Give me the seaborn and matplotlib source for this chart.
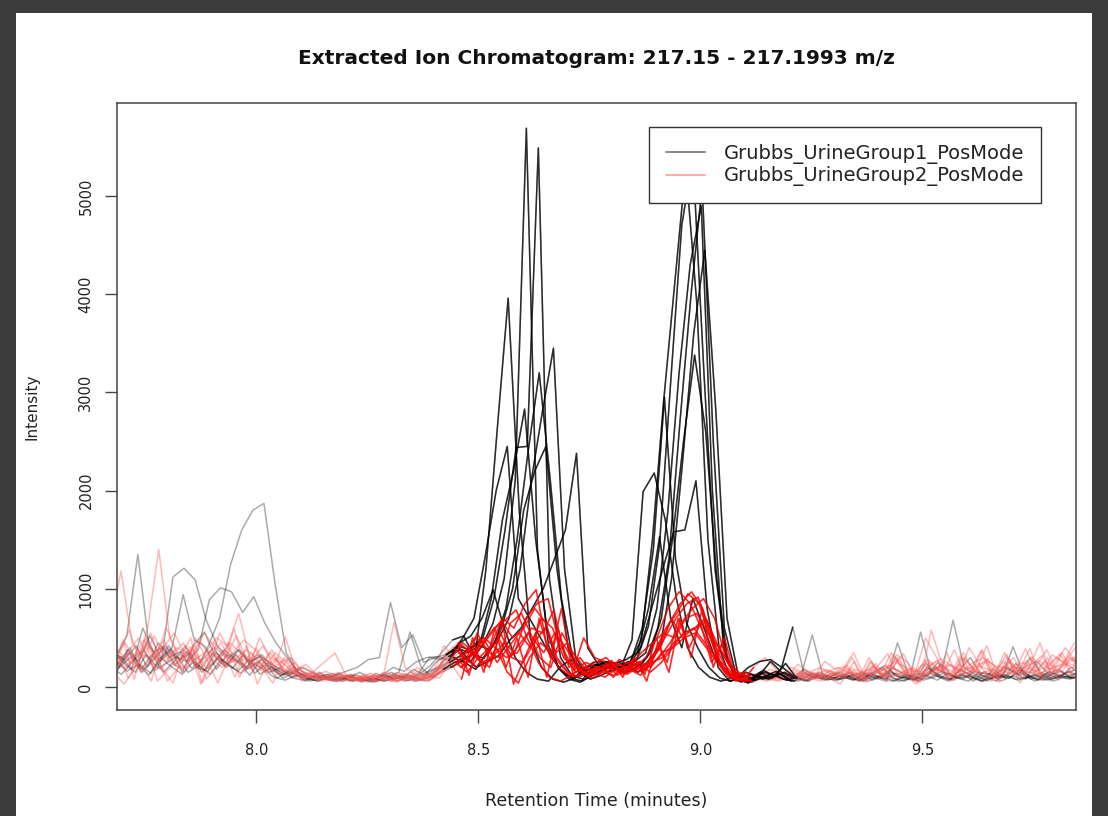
import numpy as np
import pandas as pd
import matplotlib
matplotlib.use("Agg")
import matplotlib.pyplot as plt
import seaborn as sns
from matplotlib.lines import Line2D
from matplotlib.patches import Rectangle

# ---------------- data ----------------
title = "Extracted Ion Chromatogram: 217.15 - 217.1993 m/z"
group_names = ["Grubbs_UrineGroup1_PosMode", "Grubbs_UrineGroup2_PosMode"]
x_ticks = [8.0, 8.5, 9.0, 9.5]
y_ticks = [0, 1000, 2000, 3000, 4000, 5000]

# scan retention times (minutes)
rt = [7.675, 7.700, 7.725, 7.750, 7.775, 7.800, 7.825, 7.850, 7.875, 7.900, 7.925,
      7.950, 7.975, 8.000, 8.025, 8.050, 8.075, 8.100, 8.125, 8.150, 8.175, 8.200,
      8.225, 8.250, 8.275, 8.300, 8.325, 8.350, 8.375, 8.400, 8.425, 8.450, 8.475,
      8.500, 8.525, 8.550, 8.575, 8.600, 8.625, 8.650, 8.675, 8.700, 8.725, 8.750,
      8.775, 8.800, 8.825, 8.850, 8.875, 8.900, 8.925, 8.950, 8.975, 9.000, 9.025,
      9.050, 9.075, 9.100, 9.125, 9.150, 9.175, 9.200, 9.225, 9.250, 9.275, 9.300,
      9.325, 9.350, 9.375, 9.400, 9.425, 9.450, 9.475, 9.500, 9.525, 9.550, 9.575,
      9.600, 9.625, 9.650, 9.675, 9.700, 9.725, 9.750, 9.775, 9.800, 9.825, 9.850]

# per-sample retention time offsets (minutes)
g1_offsets = [0.008, 0.010, -0.008, -0.006, 0.012, 0.004, -0.004, -0.010, 0.008, 0.002]
g2_offsets = [0.005, -0.005, 0.010, -0.010, 0.002, -0.003, 0.007, -0.008, 0.012, 0.000, -0.012, 0.004]

# Group 1 intensities
g1_s1 = [300, 520, 1350, 420, 260, 380, 150, 420, 560, 300, 200, 380, 250, 310, 180, 120, 200, 150, 90, 130, 80, 110,
         60, 90, 70, 120, 60, 80, 150, 200, 310, 380, 260, 420, 650, 1100, 2100, 5690, 1400, 420, 180, 90, 60, 130,
         180, 210, 160, 300, 620, 1450, 3100, 4700, 5400, 3200, 1200, 300, 80, 40, 120, 260, 150, 90, 180, 120, 80, 140,
         100, 60, 150, 90, 200, 130, 80, 240, 110, 60, 170, 300, 120, 90, 210, 150, 80, 260, 140, 180, 90, 200]
g1_s2 = [150, 380, 260, 520, 300, 400, 940, 480, 410, 180, 330, 250, 120, 280, 200, 90, 150, 60, 110, 80, 140, 60,
         90, 50, 130, 80, 110, 60, 90, 180, 250, 320, 410, 500, 900, 1600, 2440, 2450, 5490, 1100, 300, 120, 80, 200,
         260, 190, 230, 150, 280, 420, 1100, 2300, 3600, 4450, 2800, 700, 120, 60, 150, 90, 200, 110, 60, 130, 90, 70,
         150, 80, 120, 200, 90, 60, 140, 110, 250, 80, 130, 90, 60, 180, 100, 240, 130, 70, 160, 100, 200, 120]
g1_s3 = [420, 200, 310, 150, 280, 400, 220, 360, 190, 420, 700, 1250, 1600, 1800, 1870, 1050, 350, 150, 90, 150, 70, 100,
         60, 80, 50, 110, 90, 70, 130, 220, 350, 480, 520, 300, 1200, 2600, 3960, 1800, 500, 200, 80, 50, 90, 160,
         230, 150, 200, 260, 480, 1500, 2900, 4100, 5300, 3900, 1500, 400, 100, 50, 100, 170, 110, 240, 90, 60, 150, 100,
         80, 130, 70, 160, 220, 110, 90, 60, 140, 230, 120, 80, 160, 100, 60, 190, 120, 300, 150, 90, 130, 170]
g1_s4 = [250, 310, 180, 600, 350, 420, 300, 260, 380, 890, 1010, 970, 760, 920, 650, 450, 300, 150, 100, 120, 90, 60,
         100, 70, 140, 90, 60, 120, 80, 160, 220, 300, 250, 180, 350, 480, 700, 1200, 2100, 2800, 3450, 1200, 300, 120,
         200, 240, 180, 270, 600, 1400, 2950, 1300, 650, 400, 200, 90, 60, 110, 80, 150, 120, 70, 100, 60, 120, 80,
         110, 70, 130, 90, 60, 450, 120, 80, 100, 160, 680, 200, 130, 70, 110, 90, 150, 80, 120, 60, 100, 130]
g1_s5 = [180, 350, 230, 140, 300, 1120, 1210, 1090, 680, 420, 300, 380, 250, 330, 200, 120, 180, 90, 60, 100, 70, 130,
         50, 100, 60, 90, 130, 80, 60, 140, 200, 260, 340, 290, 450, 800, 1500, 2400, 3200, 2100, 900, 300, 150, 220,
         250, 180, 260, 200, 350, 700, 1500, 2500, 3380, 2600, 1100, 250, 70, 50, 90, 130, 80, 60, 140, 100, 70, 110,
         90, 150, 70, 110, 60, 130, 90, 200, 120, 70, 180, 100, 60, 140, 90, 200, 110, 70, 130, 160, 90, 120]
g1_s6 = [350, 280, 420, 200, 450, 300, 360, 190, 280, 400, 220, 330, 180, 260, 150, 200, 100, 130, 70, 90, 60, 120,
         80, 60, 100, 150, 90, 180, 120, 250, 330, 420, 380, 450, 900, 1700, 2200, 2830, 1500, 600, 200, 80, 50, 110,
         170, 220, 140, 190, 300, 600, 1300, 2700, 4000, 5100, 2500, 600, 150, 60, 110, 80, 130, 60, 90, 140, 70, 100,
         130, 80, 60, 110, 150, 90, 70, 120, 200, 130, 90, 60, 150, 120, 90, 410, 120, 60, 140, 90, 160, 110]
g1_s7 = [200, 130, 260, 380, 170, 240, 310, 150, 220, 130, 280, 190, 330, 140, 230, 90, 160, 110, 60, 100, 140, 80,
         120, 90, 60, 110, 150, 560, 200, 100, 180, 250, 300, 200, 260, 320, 480, 600, 800, 1000, 1300, 1600, 2380, 400,
         220, 260, 200, 480, 1990, 2180, 1700, 900, 400, 200, 100, 60, 90, 130, 70, 110, 160, 90, 60, 120, 80, 140,
         100, 70, 140, 90, 120, 60, 80, 560, 130, 90, 70, 150, 110, 60, 130, 90, 180, 100, 70, 140, 110, 90]
g1_s8 = [120, 250, 400, 180, 330, 150, 260, 420, 200, 160, 300, 220, 140, 250, 180, 100, 70, 120, 90, 60, 110, 90,
         70, 100, 80, 60, 120, 90, 140, 300, 280, 350, 500, 700, 1320, 2000, 2450, 900, 700, 500, 300, 150, 90, 200,
         230, 200, 250, 220, 400, 800, 1200, 1580, 1600, 2100, 800, 200, 60, 90, 130, 80, 110, 150, 90, 70, 130, 100,
         150, 90, 60, 120, 80, 140, 100, 70, 190, 110, 80, 130, 60, 160, 90, 120, 70, 100, 140, 80, 110, 90]
g1_s9 = [280, 160, 230, 120, 300, 210, 130, 260, 170, 350, 240, 160, 280, 130, 200, 150, 90, 70, 110, 80, 60, 100,
         150, 80, 120, 200, 160, 250, 300, 310, 270, 450, 520, 700, 990, 600, 300, 150, 80, 60, 200, 280, 150, 250,
         260, 240, 280, 350, 800, 1530, 700, 400, 900, 600, 300, 150, 100, 200, 260, 280, 200, 610, 150, 90, 120, 80,
         110, 70, 130, 90, 60, 100, 80, 120, 70, 140, 90, 110, 60, 100, 130, 80, 90, 120, 70, 100, 80, 130]
g1_s10 = [380, 240, 150, 330, 200, 420, 280, 350, 150, 240, 380, 290, 200, 330, 260, 180, 130, 200, 150, 90, 120, 160,
          200, 280, 300, 860, 400, 530, 250, 300, 330, 400, 350, 420, 380, 600, 1000, 1800, 2200, 2450, 1200, 400, 150, 80,
          120, 180, 210, 260, 350, 800, 1800, 3200, 4300, 4900, 2000, 400, 100, 150, 110, 90, 140, 80, 120, 530, 100, 70,
          90, 140, 80, 110, 170, 90, 130, 70, 100, 150, 90, 120, 80, 140, 60, 110, 90, 130, 70, 120, 90, 110]

# Group 2 intensities
g2_s1 = [300, 450, 220, 600, 1400, 500, 250, 380, 200, 450, 300, 520, 260, 180, 350, 220, 130, 90, 150, 80, 60, 120,
         90, 60, 110, 70, 100, 60, 80, 120, 200, 350, 250, 400, 550, 700, 600, 850, 990, 400, 200, 120, 180, 90,
         150, 120, 200, 180, 250, 400, 650, 850, 970, 800, 400, 150, 60, 100, 140, 90, 120, 200, 150, 100, 260, 180,
         220, 80, 300, 120, 350, 180, 60, 280, 120, 350, 90, 400, 220, 60, 180, 300, 120, 200, 380, 140, 320, 180]
g2_s2 = [600, 1180, 450, 300, 520, 260, 400, 350, 180, 300, 450, 250, 320, 200, 150, 280, 120, 180, 100, 140, 90, 60,
         80, 130, 60, 90, 150, 80, 120, 100, 250, 400, 300, 200, 350, 500, 300, 450, 600, 550, 785, 300, 150, 200,
         130, 250, 180, 220, 150, 300, 500, 700, 850, 915, 600, 250, 100, 60, 200, 300, 180, 120, 230, 150, 200, 130,
         170, 350, 100, 240, 60, 300, 140, 50, 580, 220, 80, 300, 160, 420, 90, 280, 40, 230, 320, 100, 260, 400]
g2_s3 = [200, 350, 500, 250, 180, 320, 450, 280, 350, 500, 420, 750, 300, 200, 380, 150, 250, 120, 80, 110, 150, 90,
         60, 100, 80, 660, 200, 120, 90, 150, 280, 200, 320, 450, 600, 680, 785, 500, 250, 100, 60, 120, 200, 150,
         100, 180, 130, 200, 250, 400, 700, 500, 600, 450, 300, 200, 80, 120, 90, 150, 110, 170, 130, 90, 150, 200,
         140, 60, 260, 100, 330, 150, 30, 200, 270, 90, 320, 140, 380, 100, 350, 130, 270, 90, 210, 340, 120, 500]
g2_s4 = [450, 280, 350, 150, 250, 400, 550, 320, 200, 380, 280, 450, 350, 280, 420, 200, 510, 150, 120, 70, 100, 60,
         90, 60, 120, 80, 50, 100, 70, 90, 150, 300, 450, 350, 200, 400, 150, 40, 300, 450, 350, 200, 100, 150,
         200, 160, 230, 180, 120, 250, 300, 450, 550, 600, 680, 350, 150, 80, 60, 120, 90, 140, 100, 160, 120, 90,
         30, 200, 80, 220, 90, 300, 150, 40, 250, 170, 60, 300, 190, 80, 160, 330, 90, 200, 450, 120, 350, 100]
g2_s5 = [150, 30, 200, 420, 60, 180, 280, 500, 40, 260, 350, 100, 420, 30, 250, 180, 300, 60, 150, 250, 345, 120,
         70, 50, 90, 60, 80, 110, 60, 100, 350, 250, 400, 300, 410, 680, 500, 600, 800, 650, 300, 150, 100, 160,
         220, 180, 130, 200, 300, 500, 800, 970, 850, 600, 350, 200, 90, 50, 100, 70, 130, 90, 120, 80, 110, 150,
         200, 120, 90, 160, 220, 140, 190, 110, 160, 260, 180, 140, 220, 170, 120, 200, 250, 160, 200, 300, 220, 180]
g2_s6 = [380, 250, 300, 480, 280, 600, 350, 250, 480, 300, 200, 350, 480, 380, 220, 300, 200, 100, 150, 90, 60, 100,
         130, 80, 60, 120, 90, 150, 80, 130, 420, 300, 200, 550, 350, 300, 650, 750, 500, 350, 550, 400, 200, 100,
         180, 230, 150, 250, 180, 350, 600, 750, 950, 850, 500, 200, 100, 150, 80, 110, 70, 100, 140, 90, 60, 120,
         100, 260, 50, 200, 340, 90, 170, 60, 210, 150, 380, 100, 130, 290, 50, 260, 120, 310, 70, 230, 400, 250]
g2_s7 = [250, 180, 350, 300, 400, 250, 180, 300, 550, 400, 300, 250, 200, 500, 300, 250, 150, 200, 120, 160, 100, 80,
         100, 140, 90, 70, 120, 60, 110, 180, 200, 450, 350, 250, 300, 450, 350, 700, 850, 900, 450, 250, 150, 120,
         160, 250, 200, 150, 200, 300, 450, 650, 800, 900, 700, 300, 120, 60, 120, 180, 140, 90, 160, 120, 180, 140,
         180, 60, 260, 100, 190, 340, 110, 500, 300, 80, 230, 150, 370, 90, 260, 130, 390, 150, 300, 70, 300, 220]
g2_s8 = [500, 350, 250, 180, 300, 480, 220, 200, 300, 180, 550, 350, 280, 250, 180, 350, 250, 130, 90, 120, 80, 130,
         60, 90, 120, 100, 60, 90, 130, 70, 150, 200, 300, 500, 450, 250, 400, 550, 400, 700, 600, 300, 180, 250,
         200, 150, 280, 220, 350, 450, 550, 500, 700, 750, 550, 400, 200, 100, 50, 90, 150, 110, 80, 140, 100, 160,
         130, 300, 50, 200, 90, 330, 250, 80, 220, 290, 100, 350, 150, 280, 60, 300, 160, 390, 110, 330, 250, 450]
g2_s9 = [320, 90, 280, 550, 200, 40, 380, 420, 80, 220, 450, 100, 350, 200, 40, 300, 180, 230, 120, 100, 130, 70,
         110, 80, 150, 120, 70, 200, 120, 90, 250, 80, 500, 150, 600, 200, 500, 100, 700, 300, 800, 150, 500, 300,
         250, 120, 180, 250, 150, 250, 400, 550, 600, 700, 450, 250, 150, 80, 130, 100, 80, 150, 90, 130, 170, 110,
         150, 130, 210, 170, 260, 200, 150, 280, 190, 230, 170, 240, 300, 220, 190, 150, 220, 270, 180, 230, 290, 350]
g2_s10 = [200, 480, 80, 500, 320, 60, 200, 380, 30, 350, 250, 600, 150, 400, 200, 130, 180, 120, 90, 60, 100, 120,
          80, 110, 60, 90, 130, 80, 100, 150, 300, 250, 150, 300, 200, 550, 300, 250, 450, 600, 350, 450, 200, 130,
          180, 270, 100, 300, 130, 500, 250, 700, 400, 650, 250, 450, 150, 120, 90, 60, 100, 130, 70, 110, 90, 130,
          110, 180, 140, 90, 200, 160, 120, 230, 160, 200, 140, 180, 230, 260, 170, 210, 180, 140, 260, 200, 240, 300]
g2_s11 = [80, 300, 580, 250, 60, 420, 300, 150, 500, 280, 40, 300, 250, 180, 300, 220, 160, 100, 140, 110, 70, 90,
          120, 70, 100, 140, 90, 70, 160, 110, 200, 280, 200, 350, 500, 400, 300, 350, 550, 300, 200, 550, 350, 200,
          250, 300, 180, 200, 260, 200, 350, 400, 500, 550, 400, 250, 100, 70, 120, 150, 100, 80, 110, 70, 130, 90,
          120, 90, 150, 130, 180, 110, 140, 170, 120, 160, 220, 130, 160, 140, 200, 120, 170, 150, 130, 190, 150, 120]
g2_s12 = [280, 200, 320, 450, 250, 350, 280, 400, 250, 350, 200, 300, 380, 280, 150, 250, 300, 160, 110, 80, 120, 100,
          60, 120, 100, 80, 140, 100, 90, 130, 350, 450, 120, 500, 250, 650, 30, 300, 550, 100, 600, 200, 300, 150,
          200, 100, 230, 280, 60, 450, 150, 700, 300, 800, 200, 500, 100, 150, 100, 80, 60, 120, 100, 150, 110, 80,
          160, 110, 180, 140, 100, 150, 200, 120, 180, 140, 110, 200, 150, 120, 170, 130, 200, 160, 110, 180, 240, 200]

group1 = [g1_s1, g1_s2, g1_s3, g1_s4, g1_s5, g1_s6, g1_s7, g1_s8, g1_s9, g1_s10]
group2 = [g2_s1, g2_s2, g2_s3, g2_s4, g2_s5, g2_s6, g2_s7, g2_s8, g2_s9, g2_s10, g2_s11, g2_s12]

bad = [(g, i, len(s)) for g, grp in (("g1", group1), ("g2", group2)) for i, s in enumerate(grp) if len(s) != len(rt)]
if bad:
    raise ValueError(f"length mismatch: {bad}")

rows = []
for gname, grp, offs in ((group_names[0], group1, g1_offsets), (group_names[1], group2, g2_offsets)):
    for k, (series, off) in enumerate(zip(grp, offs)):
        for t, v in zip(rt, series):
            rows.append({"rt": t + off, "intensity": v, "sample": f"{gname}_{k}", "group": gname})
df = pd.DataFrame(rows)

# ---------------- style ----------------
sns.set_theme(style="white")
plt.rcParams["font.family"] = ["DejaVu Sans"]

W, H = 1108, 816
fig = plt.figure(figsize=(W / 100, H / 100), dpi=100, facecolor="#3b3b3b")
panel = Rectangle((16 / W, 0), (1092 - 16) / W, 1 - 13 / H, transform=fig.transFigure,
                  facecolor="white", edgecolor="none", zorder=-10)
fig.add_artist(panel)
ax = fig.add_axes([117 / W, 1 - 710 / H, (1076 - 117) / W, (710 - 103) / H])
ax.set_zorder(1)
ax.set_facecolor("white")

styles = {
    group_names[0]: dict(light=(0.0, 0.0, 0.0), la=0.33, dark=(0.0, 0.0, 0.0), da=0.75, win=(8.42, 9.22)),
    group_names[1]: dict(light=(1.0, 0.35, 0.35), la=0.42, dark=(1.0, 0.0, 0.0), da=0.8, win=(8.44, 9.12)),
}

for g in group_names:
    st = styles[g]
    sub = df[df["group"] == g]
    sns.lineplot(data=sub, x="rt", y="intensity", units="sample", estimator=None,
                 color=st["light"], alpha=st["la"], lw=1.1, legend=False, ax=ax)
for g in group_names:
    st = styles[g]
    sub = df[df["group"] == g]
    lo, hi = st["win"]
    subw = sub[(sub["rt"] >= lo) & (sub["rt"] <= hi)]
    sns.lineplot(data=subw, x="rt", y="intensity", units="sample", estimator=None,
                 color=st["dark"], alpha=st["da"], lw=1.1, legend=False, ax=ax)

ax.set_xlim(7.686, 9.846)
ax.set_ylim(-234, 5947)
ax.set_xticks(x_ticks)
ax.set_xticklabels([f"{v:.1f}" for v in x_ticks])
ax.set_yticks(y_ticks)
ax.set_yticklabels([str(v) for v in y_ticks], rotation=90, va="center")

for sp in ax.spines.values():
    sp.set_visible(True)
    sp.set_color("#444444")
    sp.set_linewidth(1.1)

ax.tick_params(axis="both", which="major", bottom=True, left=True, direction="out",
               length=9, width=1.0, color="#444444", labelsize=10.5, labelcolor="#222222")
ax.tick_params(axis="x", pad=15)
ax.tick_params(axis="y", pad=8)

ax.set_xlabel("Retention Time (minutes)", fontsize=12.5, color="#222222")
ax.set_ylabel("Intensity", fontsize=11, color="#222222")
ax.xaxis.set_label_coords(0.5, -(801 - 710) / 607)
ax.xaxis.label.set_va("center")
ax.yaxis.set_label_coords(-(117 - 32) / 959, 0.5)
ax.yaxis.label.set_va("center")

ax.set_title(title, fontsize=14.5, fontweight="bold", color="#111111",
             y=1 + (103 - 59) / 607, va="center", pad=0)

handles = [Line2D([], [], color=(0, 0, 0), alpha=0.5, lw=1.3),
           Line2D([], [], color=(1, 0.35, 0.35), alpha=0.55, lw=1.3)]
leg = ax.legend(handles, group_names, loc="upper right",
                bbox_to_anchor=(1 - (1076 - 1041) / 959, 1 - (127 - 103) / 607),
                borderaxespad=0, frameon=True, fancybox=False, framealpha=1,
                edgecolor="#333333", fontsize=14, handlelength=2.0, handletextpad=1.0,
                borderpad=0.85, labelspacing=0.15)
leg.get_frame().set_linewidth(1.0)
for t in leg.get_texts():
    t.set_color("#222222")

fig.savefig("out.png", dpi=100, facecolor=fig.get_facecolor())
